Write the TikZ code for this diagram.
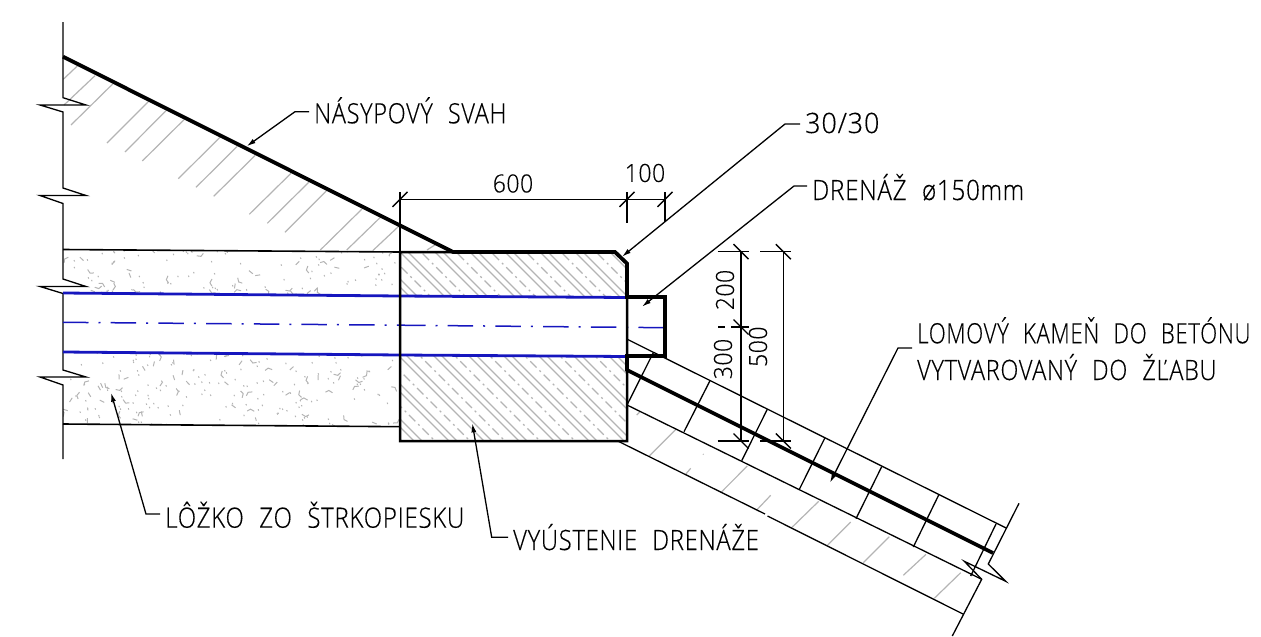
\documentclass[tikz,border=0pt]{standalone}
\usepackage{fontspec}
\newfontfamily\cadfont[FakeStretch=0.84,LetterSpace=2.5,WordSpace=2.2,FakeBold=0.3]{Open Sans Light}
\newfontfamily\dimfont[FakeStretch=0.92,LetterSpace=2,FakeBold=0.3]{Open Sans Light}
\usetikzlibrary{arrows.meta}
\definecolor{hatchgrey}{RGB}{180,180,180}
\definecolor{pipeblue}{RGB}{22,22,190}
\begin{document}
\begin{tikzpicture}
[x=1pt,y=-1pt,
thinline/.style={draw=black,line width=1.3pt},
thickline/.style={draw=black,line width=3.8pt,line join=miter},
blockline/.style={draw=black,line width=2.5pt},
hatchline/.style={draw=hatchgrey,line width=1.2pt},
hatchdash/.style={draw=hatchgrey,line width=1.2pt,dash pattern=on 9pt off 4pt on 2pt off 4pt},
gravelmark/.style={draw=hatchgrey,line width=1pt},
pipeline/.style={draw=pipeblue,line width=2.8pt},
axisline/.style={draw=pipeblue,line width=1.5pt,dash pattern=on 25.5pt off 10pt on 2pt off 10.2pt},
leader/.style={draw=black,line width=1.3pt,-{Latex[length=9pt,width=5pt]}},
dimline/.style={draw=black,line width=1.4pt},
label/.style={font=\cadfont\fontsize{28}{28}\selectfont,anchor=base west,inner xsep=5pt,inner ysep=0pt},
dimlabel/.style={font=\dimfont\fontsize{25}{25}\selectfont,inner sep=0pt}]
\useasboundingbox (0,0) rectangle (1261,637);

% gravel bed
\begin{scope}
\clip (63,250) -- (400,252) -- (400,296) -- (63,293) -- cycle
      (63,352) -- (400,355) -- (400,427) -- (63,424) -- cycle;
\pgfmathsetseed{4711}
\foreach \i in {1,...,480}{
    \pgfmathsetmacro{\px}{63+337*rnd}
    \pgfmathsetmacro{\py}{250+177*rnd}
    \pgfmathsetmacro{\pa}{360*rnd}
    \pgfmathtruncatemacro{\kind}{mod(\i,7)}
    \ifnum\kind=0
        \draw[gravelmark,rotate around={\pa:(\px,\py)}] (\px-3.5,\py-2.5) -- (\px,\py) -- (\px+3.5,\py-1.5);
    \else\ifnum\kind=1
        \draw[gravelmark,rotate around={\pa:(\px,\py)}] (\px-2.5,\py) -- (\px+2.5,\py);
    \else
        \draw[gravelmark] (\px,\py) -- ++(0.6,1.4);
    \fi\fi
}
\end{scope}

% slope hatching
\draw[hatchline] (63.3,79.3) -- (77.3,66);
\draw[hatchline] (64,105) -- (95,75.7);
\draw[hatchline] (71,125) -- (112.7,84);
\draw[hatchline] (107,143) -- (148.3,101.7);
\draw[hatchline] (125,152) -- (166,110.7);
\draw[hatchline] (142.3,161) -- (184,119.7);
\draw[hatchline] (178.3,178.7) -- (220,137.3);
\draw[hatchline] (196,187.3) -- (237.3,146.3);
\draw[hatchline] (213.7,196.3) -- (255.3,155.3);
\draw[hatchline] (249.3,214.3) -- (291,173.3);
\draw[hatchline] (267.3,223.3) -- (308.7,182.3);
\draw[hatchline] (285,232.3) -- (326.3,191);
\draw[hatchline] (320.3,250) -- (362,209);
\draw[hatchline] (346.7,250) -- (380,217.7);
\draw[hatchline] (372.7,250.7) -- (399,226);
\draw[hatchline] (427,250) -- (438,243);

% hatching under the stones
\draw[hatchline] (636.7,415) -- (640,411.7);
\draw[hatchline] (649.3,456) -- (676,429.3);
\draw[hatchline] (703,454) -- (703.6,454.6);
\draw[hatchline] (685,475) -- (690.7,468.3);
\draw[hatchline] (720.7,492.7) -- (747.3,466);
\draw[hatchline] (756.7,510) -- (770.7,495.3);
\draw[hatchline] (792,527.3) -- (818.7,501.3);
\draw[hatchline] (827.7,545) -- (850.7,522);
\draw[hatchline] (863.3,562.7) -- (889.3,536.7);
\draw[hatchline] (903.3,575.3) -- (926,554.3);
\draw[hatchline] (934.3,598.3) -- (960.7,572.7);

% concrete hatching
\begin{scope}
\clip (400,252) -- (615,252) -- (627,263) -- (627,297) -- (400,297) -- cycle
      (400,356) -- (627,356) -- (627,441) -- (400,441) -- cycle;
\foreach \c in {-62,-27,...,400}{
    \draw[hatchline] (\c+200,200) -- (\c+460,460);
    \draw[hatchline] (\c+208,200) -- (\c+468,460);
    \draw[hatchdash] (\c+221,200) -- (\c+481,460);
}
\end{scope}

% break line, left
\draw[thinline] (63,22) -- (63,97.7) -- (86,105) -- (40,105) -- (63,112)
    -- (63,188) -- (86,195.5) -- (40,195.5) -- (63,203.5)
    -- (63,279) -- (86,286.5) -- (40,286.5) -- (63,293.5)
    -- (63,370) -- (86,377) -- (40,377) -- (63,385) -- (63,459);

% gravel bed edges
\draw[thinline,line width=1.6pt] (63,249.5) -- (400,252);
\draw[thinline,line width=1.6pt] (63,424) -- (400,426.7);

% stone lining
\draw[thinline] (627.3,339.3) -- (1006.7,528.3);
\draw[thinline] (627,405) -- (981.7,579.3);
\draw[thinline] (617.7,441) -- (765,514);
\draw[thinline] (767.5,516) -- (963,614);
\draw[thinline] (653.3,352.7) -- (627,405);
\draw[thinline] (710,380.7) -- (684,431.7);
\draw[thinline] (767.3,409.3) -- (741.7,460.7);
\draw[thinline] (824.7,438.3) -- (799,490);
\draw[thinline] (881.7,466.7) -- (856,518.7);
\draw[thinline] (938.7,495) -- (913.3,547);
\draw[thinline] (996,524) -- (970.7,576);

% break line, right
\draw[thinline] (1019,503.3) -- (988.3,564) -- (1005.7,581.3) -- (964.3,561.3)
    -- (981.7,579.3) -- (952.3,636);

% pipe
\draw[pipeline] (63,293) -- (400,296) -- (627,297.5);
\draw[pipeline] (63,352) -- (400,355) -- (627,356.5);
\draw[axisline] (63,322.3) -- (400,325.2);
\draw[axisline] (400,325.2) -- (665,327.7);

% outlet block
\draw[blockline] (400,252) -- (615,252) -- (627,263.5) -- (627,441) -- (400,441) -- cycle;
\draw[thickline] (63,56.7) -- (453,252) -- (615,252) -- (627,263.5) -- (627,297) -- (665,297)
    -- (665,356) -- (627,356) -- (627,370) -- (993,553);

% dimensions
\coordinate (dimA) at (400,199.3);
\coordinate (dimB) at (627,199.3);
\coordinate (dimC) at (665,199.3);
\draw[dimline] (dimA) -- (dimB) -- (dimC);
\draw[dimline] (400,192) -- (400,252);
\draw[dimline] (627,192) -- (627,222.7);
\draw[dimline] (665,192) -- (665,221.7);
\draw[dimline] (392.5,206.8) -- (407.5,191.8);
\draw[dimline] (619.5,206.8) -- (634.5,191.8);
\draw[dimline] (657.5,206.8) -- (672.5,191.8);
\node[dimlabel] (dim600) at (513,183.5) {600};
\node[dimlabel] (dim100) at (645,173) {100};

\coordinate (dimD) at (741,251.7);
\coordinate (dimE) at (741,327);
\coordinate (dimF) at (741,441);
\coordinate (dimG) at (783.3,251.7);
\coordinate (dimH) at (783.3,441);
\draw[dimline] (dimD) -- (dimE) -- (dimF);
\draw[dimline] (dimG) -- (dimH);
\draw[dimline] (717.7,251.7) -- (748.5,251.7);
\draw[dimline] (718,327) -- (724.5,327);
\draw[dimline] (731,327) -- (748.5,327);
\draw[dimline] (717.7,441) -- (748.5,441);
\draw[dimline] (760,251.7) -- (791,251.7);
\draw[dimline] (760,441) -- (791,441);
\draw[dimline] (733.5,244.2) -- (748.5,259.2);
\draw[dimline] (733.5,319.5) -- (748.5,334.5);
\draw[dimline] (733.5,433.5) -- (748.5,448.5);
\draw[dimline] (775.8,244.2) -- (790.8,259.2);
\draw[dimline] (775.8,433.5) -- (790.8,448.5);
\node[dimlabel,rotate=90] (dim200) at (725,290) {200};
\node[dimlabel,rotate=90] (dim300) at (723,359) {300};
\node[dimlabel,rotate=90] (dim500) at (758,346.7) {500};

% labels
\node[label] (svah) at (309,123.3) {NÁSYPOVÝ SVAH};
\node[label] (chamfer) at (800,133) {\scalebox{1.15}[1]{30/30}};
\node[label] (drain) at (807,200) {\scalebox{1.03}[1]{DRENÁŽ ø150mm}};
\node[label] (stone) at (912,343.3) {\scalebox{0.944}[1]{LOMOVÝ KAMEŇ DO BETÓNU}};
\node[label] (stoneb) at (912,380) {VYTVAROVANÝ DO ŽĽABU};
\node[label] (bed) at (160,527.7) {\scalebox{1.024}[1]{LÔŽKO ZO ŠTRKOPIESKU}};
\node[label] (outlet) at (508,550) {\scalebox{1.012}[1]{VYÚSTENIE DRENÁŽE}};

% leaders
\coordinate (svahknee) at (295,111.7);
\coordinate (svahtip) at (246.7,146.3);
\coordinate (chamferknee) at (785,124);
\coordinate (chamfertip) at (622,256.7);
\coordinate (drainknee) at (794,186);
\coordinate (draintip) at (642,306.7);
\coordinate (stoneknee) at (898,348);
\coordinate (stonetip) at (830,482.7);
\coordinate (bedknee) at (146,514);
\coordinate (bedtip) at (111,392.7);
\coordinate (outletknee) at (491.7,537.3);
\coordinate (outlettip) at (472.3,423.3);
\draw[leader] (svah.base west |- svahknee) -- (svahknee) -- (svahtip);
\draw[leader] (chamfer.base west |- chamferknee) -- (chamferknee) -- (chamfertip);
\draw[leader] (drain.base west |- drainknee) -- (drainknee) -- (draintip);
\draw[leader] (stone.base west |- stoneknee) -- (stoneknee) -- (stonetip);
\draw[leader] (bed.base west |- bedknee) -- (bedknee) -- (bedtip);
\draw[leader] (outlet.base west |- outletknee) -- (outletknee) -- (outlettip);
\end{tikzpicture}
\end{document}
